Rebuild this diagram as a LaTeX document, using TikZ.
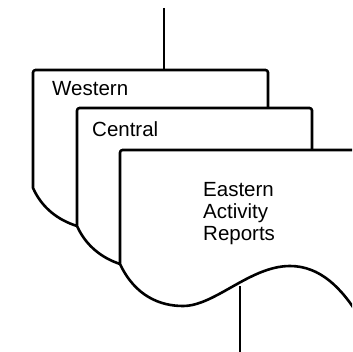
\documentclass[tikz,border=0pt]{standalone}
\usepackage{fontspec}
\setmainfont{Liberation Sans}
\usetikzlibrary{positioning}

\begin{document}
\begin{tikzpicture}[
  x=1pt, y=-1pt,
  doc/.style={line width=2.6pt, rounded corners=2.5pt, fill=white, line join=round},
  link/.style={line width=1.3pt},
  label/.style={anchor=base west, inner sep=0pt, align=left, font=\fontsize{20.5}{22}\selectfont}
]
\useasboundingbox (0,0) rectangle (352,352);
\clip (0,0) rectangle (352,352);

% stacked documents, back to front
\draw[doc] (268,112) -- (268,70) -- (33,70) [rounded corners=0pt] -- (33,188)
  .. controls (42,208) and (58,220) .. (77,226);
\draw[doc] (312,152) -- (312,108) -- (77,108) [rounded corners=0pt] -- (77,226)
  .. controls (86,246) and (102,258) .. (120,264);
\draw[doc] (360,150) -- (120,150) [rounded corners=0pt] -- (120,264)
  .. controls (135,296) and (160,306) .. (183,306)
  .. controls (215,306) and (250,266) .. (290,266)
  .. controls (320,266) and (342,288) .. (360,318);

\node[label] (west) at (52,96) {Western};
\node[label] (cent) at (92,137) {Central};
\node[label] (east) at (203,240) {Eastern\\Activity\\Reports};

% connectors
\coordinate (in) at (164,8);
\coordinate (wtop) at (164,70);
\coordinate (ewave) at (240,286);
\coordinate (out) at (240,352);
\draw[link] (in) -- (wtop);
\draw[link] (ewave) -- (out);
\end{tikzpicture}
\end{document}
